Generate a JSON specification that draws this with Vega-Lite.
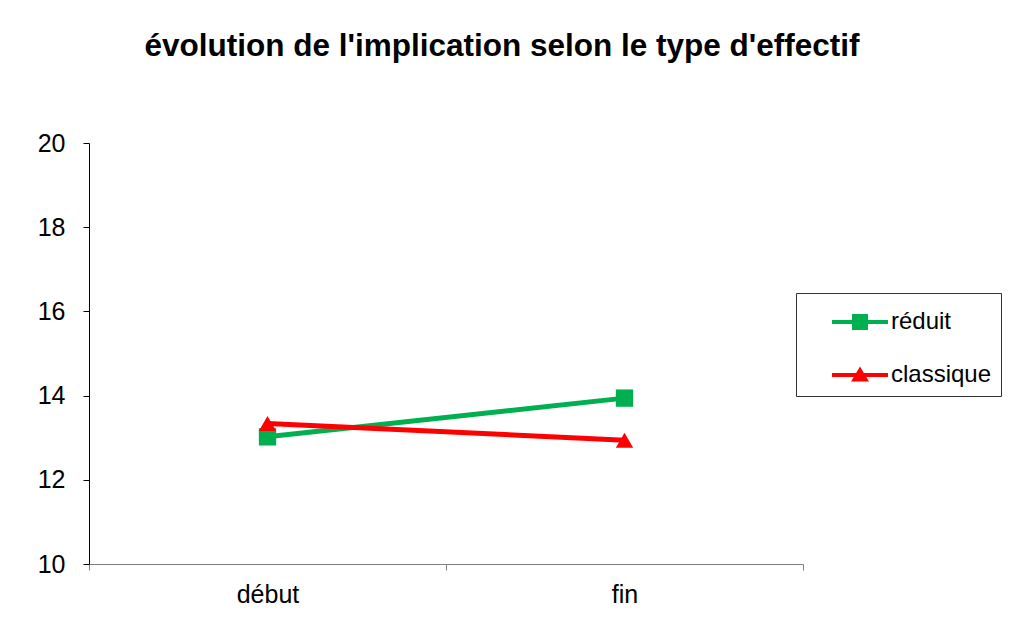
{
  "$schema": "https://vega.github.io/schema/vega-lite/v6.json",
  "width": 714,
  "height": 421,
  "autosize": {"type": "none"},
  "padding": {"left": 89, "top": 143, "right": 219, "bottom": 80},
  "background": "white",
  "title": {
    "text": "évolution de l'implication selon le type d'effectif",
    "font": "Liberation Sans",
    "fontSize": 31.5,
    "fontWeight": "bold",
    "color": "black",
    "anchor": "middle",
    "frame": "group",
    "dx": 56,
    "baseline": "alphabetic",
    "offset": 44
  },
  "data": {
    "values": [
      {"moment": "début", "type": "réduit", "valeur": 13.02},
      {"moment": "fin", "type": "réduit", "valeur": 13.94},
      {"moment": "début", "type": "classique", "valeur": 13.34},
      {"moment": "fin", "type": "classique", "valeur": 12.94}
    ]
  },
  "config": {
    "view": {"stroke": null},
    "axis": {"grid": false, "labelFont": "Liberation Sans", "labelColor": "black", "title": null}
  },
  "encoding": {
    "x": {
      "field": "moment",
      "type": "nominal",
      "sort": ["début", "fin"],
      "scale": {"type": "band", "paddingInner": 0, "paddingOuter": 0},
      "axis": {
        "labelAngle": 0,
        "labelFontSize": 25,
        "labelPadding": 12,
        "domainColor": "#808080",
        "tickColor": "#808080",
        "tickSize": 6,
        "tickBand": "extent"
      }
    },
    "y": {
      "field": "valeur",
      "type": "quantitative",
      "scale": {"domain": [10, 20], "nice": false, "zero": false},
      "axis": {
        "values": [10, 12, 14, 16, 18, 20],
        "labelFontSize": 25,
        "labelPadding": 18,
        "domainColor": "black",
        "tickColor": "black",
        "tickSize": 6
      }
    },
    "color": {
      "field": "type",
      "type": "nominal",
      "scale": {"domain": ["réduit", "classique"], "range": ["#00B050", "#FF0000"]},
      "legend": {
        "title": null,
        "orient": "none",
        "legendX": 707,
        "legendY": 150,
        "strokeColor": "#333333",
        "padding": 9,
        "symbolSize": 1600,
        "symbolStrokeWidth": 0,
        "labelFont": "Liberation Sans",
        "labelFontSize": 24,
        "labelColor": "black",
        "labelOffset": 46,
        "rowPadding": 21
      }
    }
  },
  "layer": [
    {
      "mark": {"type": "line", "strokeWidth": 5}
    },
    {
      "transform": [{"filter": "datum.type === 'réduit'"}],
      "mark": {"type": "point", "shape": "square", "filled": true, "opacity": 1, "size": 300}
    },
    {
      "transform": [{"filter": "datum.type === 'classique'"}],
      "mark": {"type": "point", "shape": "triangle-up", "filled": true, "opacity": 1, "size": 300}
    },
    {
      "mark": {"type": "point", "filled": true, "size": 0},
      "encoding": {
        "shape": {
          "field": "type",
          "type": "nominal",
          "scale": {
            "domain": ["réduit", "classique"],
            "range": [
              "M0.35,-0.1H3.15V0.1H0.35Z M1.35,-0.4H2.15V0.4H1.35Z",
              "M0.35,-0.1H3.15V0.1H0.35Z M1.75,-0.42L2.2,0.32H1.3Z"
            ]
          },
          "legend": {
            "title": null,
            "orient": "none",
            "legendX": 707,
            "legendY": 150,
            "symbolSize": 1600,
            "symbolStrokeWidth": 0
          }
        }
      }
    }
  ]
}
